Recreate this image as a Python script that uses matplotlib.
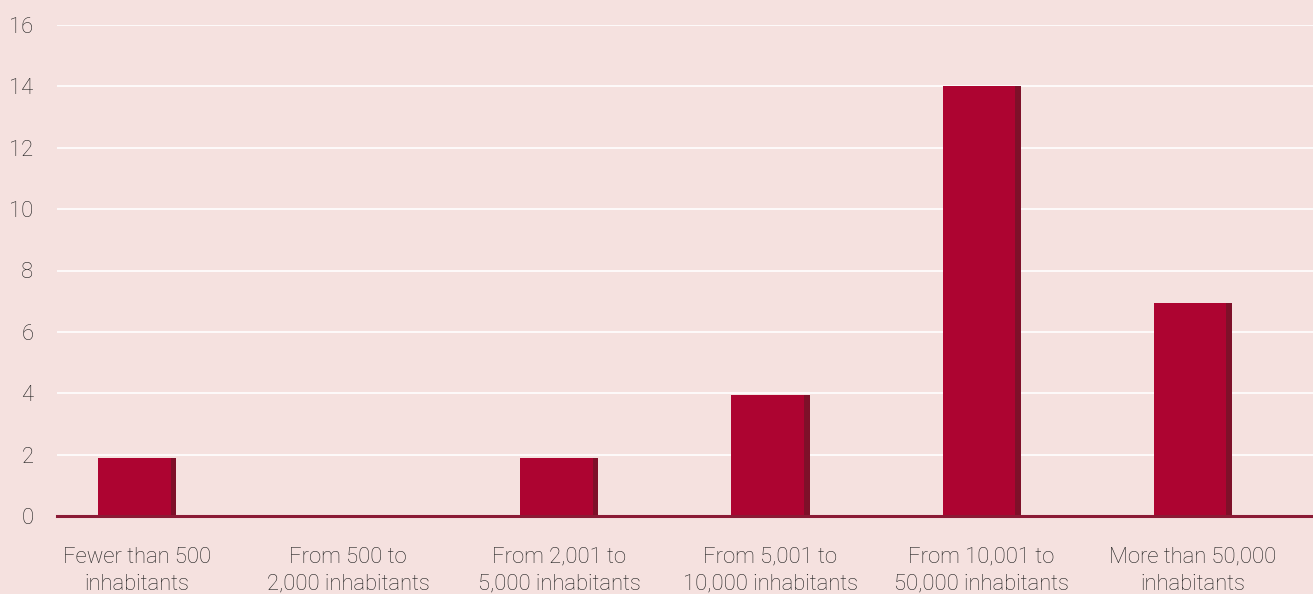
import matplotlib.pyplot as plt
import numpy as np

categories = ["Fewer than 500\ninhabitants", "From 500 to\n2,000 inhabitants",
              "From 2,001 to\n5,000 inhabitants", "From 5,001 to\n10,000 inhabitants",
              "From 10,001 to\n50,000 inhabitants", "More than 50,000\ninhabitants"]
values = [1.9, 0, 1.9, 3.95, 14.0, 6.95]
yticks = [0, 2, 4, 6, 8, 10, 12, 14, 16]

bg = "#f5e1df"
bar_col = "#ad0431"
shadow_col = "#7e1029"
text_col = "#1e1e1e"

plt.rcParams['font.family'] = ['Roboto', 'DejaVu Sans']

fig = plt.figure(figsize=(13.13, 5.94), dpi=100, facecolor=bg)
ax = fig.add_axes([57/1313, 1 - 516/594, 1 - 57/1313, (516 - 25)/594])
ax.set_facecolor(bg)

x = np.arange(len(categories))
w = 0.37
sw = 0.026
# main bar + darker strip on the right
ax.bar(x - sw/2, values, width=w - sw, color=bar_col, linewidth=0, zorder=3)
ax.bar(x + (w - sw)/2, values, width=sw, color=shadow_col, linewidth=0, zorder=3)

ax.set_xlim(-0.38, 5.57)
ax.set_ylim(0, 16)
ax.set_yticks(yticks)
ax.set_xticks(x)
ax.set_xticklabels(categories, fontsize=15.8, color=text_col, linespacing=1.4,
                   fontweight='light')
ax.tick_params(axis='y', labelsize=15.8, labelcolor=text_col, length=0, pad=17)
ax.tick_params(axis='x', length=0, pad=22)
for lab in ax.get_yticklabels():
    lab.set_fontweight('light')

ax.grid(axis='y', color='white', linewidth=1.2, zorder=0)
for s in ['top', 'right', 'left']:
    ax.spines[s].set_visible(False)
ax.spines['bottom'].set_color('#8b1a35')
ax.spines['bottom'].set_linewidth(2.2)
ax.spines['bottom'].set_zorder(4)

fig.savefig("out.png", dpi=100, facecolor=bg)
